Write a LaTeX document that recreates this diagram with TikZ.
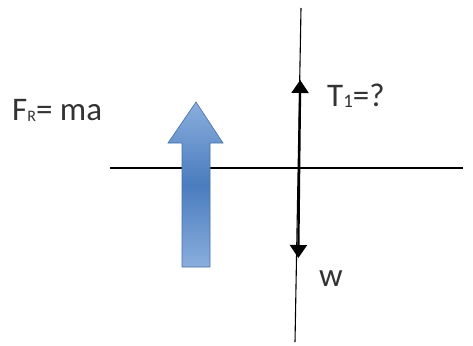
\documentclass[tikz,border=0pt]{standalone}
\usepackage{fontspec}
\setmainfont{Carlito}
\usetikzlibrary{arrows.meta,shapes.arrows}
\definecolor{bluemid}{HTML}{4A7CBE}
\definecolor{bluelight}{HTML}{8AAEDD}
\definecolor{blueedge}{HTML}{4470A8}
\tikzset{
  lbl/.style={font=\fontsize{33}{36}\selectfont, text=black!80, inner sep=0pt, anchor=base west},
  axis/.style={line width=1.1pt, black},
  force/.style={line width=2.2pt, black, -{Triangle[length=13pt,width=17pt]}},
}
\begin{document}
\begin{tikzpicture}[x=1pt,y=-1pt]
\useasboundingbox (0,0) rectangle (473,345);
% coordinates
\coordinate (top) at (301,8);
\coordinate (bot) at (295,342);
\coordinate (hl) at (110,168);
\coordinate (hr) at (463,168);
\coordinate (up) at (300.2,80);
\coordinate (dn) at (298.3,258);
\coordinate (mid) at (299.2,168);
% axes
\draw[axis] (top) -- (bot);
\draw[axis] (hl) -- (hr);
% force arrows
\draw[force] (mid) -- (up);
\draw[force] (mid) -- (dn);
% blue block arrow
\path[draw=blueedge, line width=0.6pt, top color=bluelight, bottom color=bluelight, middle color=bluemid]
  (182,267) -- (182,143) -- (168,143) -- (196,102) -- (223,143) -- (210,143) -- (210,267) -- cycle;
% labels
\node[lbl] (fr) at (12,120) {F\raisebox{-0.05em}{\fontsize{16}{16}\selectfont R}= ma};
\node[lbl] (t1) at (327,106) {T\raisebox{-0.05em}{\fontsize{19}{19}\selectfont 1}=?};
\node[lbl] (w) at (319,286) {w};
\end{tikzpicture}
\end{document}
